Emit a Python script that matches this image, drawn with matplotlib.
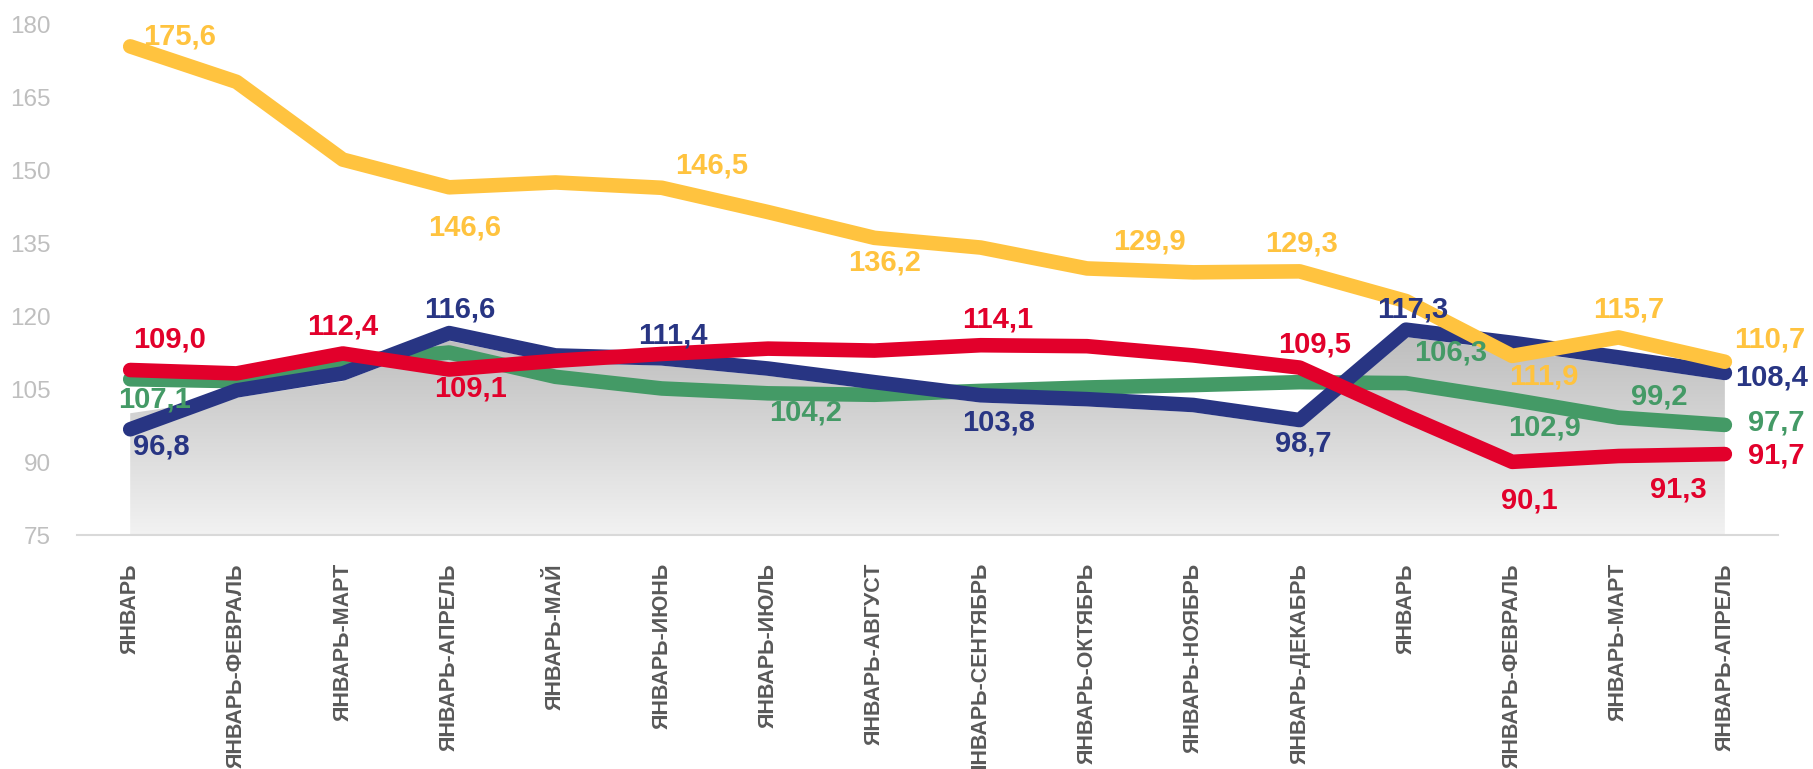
import numpy as np
import matplotlib.pyplot as plt
from matplotlib.colors import LinearSegmentedColormap
from matplotlib.patches import Polygon

# 1) Категории (периоды)
months = ["ЯНВАРЬ", "ЯНВАРЬ-ФЕВРАЛЬ", "ЯНВАРЬ-МАРТ", "ЯНВАРЬ-АПРЕЛЬ", "ЯНВАРЬ-МАЙ",
          "ЯНВАРЬ-ИЮНЬ", "ЯНВАРЬ-ИЮЛЬ", "ЯНВАРЬ-АВГУСТ", "ЯНВАРЬ-СЕНТЯБРЬ",
          "ЯНВАРЬ-ОКТЯБРЬ", "ЯНВАРЬ-НОЯБРЬ", "ЯНВАРЬ-ДЕКАБРЬ", "ЯНВАРЬ",
          "ЯНВАРЬ-ФЕВРАЛЬ", "ЯНВАРЬ-МАРТ", "ЯНВАРЬ-АПРЕЛЬ"]

# 2) Ряды значений
yellow = [175.6, 168.3, 152.3, 146.6, 147.6, 146.5, 141.5, 136.2, 134.2, 129.9, 129.1, 129.3, 123.2, 111.9, 115.7, 110.7]
navy = [96.8, 104.8, 108.3, 116.6, 112.0, 111.4, 109.3, 106.5, 103.8, 103.0, 101.8, 98.7, 117.3, 114.6, 111.6, 108.4]
red = [109.0, 108.3, 112.4, 109.1, 110.9, 112.3, 113.4, 113.0, 114.1, 113.9, 112.0, 109.5, 99.6, 90.1, 91.3, 91.7]
green = [107.1, 106.7, 110.6, 112.6, 107.6, 105.2, 104.2, 103.9, 104.7, 105.4, 105.9, 106.5, 106.3, 102.9, 99.2, 97.7]
gray = [100.1, 103.3, 106.7, 115.0, 110.6, 109.9, 107.8, 105.0, 102.3, 101.5, 100.3, 97.2, 115.8, 113.0, 110.1, 106.9]

# 3) Подписи: индекс точки и сдвиг подписи (dx, dy)
yellow_lbl = [0, 3, 5, 7, 9, 11, 13, 14, 15]
yellow_off = [(0.46, 2.1), (0.15, -8.2), (0.47, 4.5), (0.1, -5.0), (0.59, 5.6),
              (0.02, 5.7), (0.3, -4.3), (0.1, 5.7), (0.42, 4.5)]
navy_lbl = [0, 3, 5, 8, 11, 12, 15]
navy_off = [(0.29, -3.5), (0.1, 4.8), (0.1, 4.8), (0.17, -5.7), (0.03, -4.9),
            (0.06, 4.1), (0.44, -1.0)]
red_lbl = [0, 2, 3, 8, 11, 13, 14, 15]
red_off = [(0.37, 6.2), (0.0, 5.6), (0.2, -3.9), (0.16, 5.2), (0.14, 4.8),
           (0.16, -8.0), (0.56, -6.8), (0.48, -0.3)]
green_lbl = [0, 6, 12, 13, 14, 15]
green_off = [(0.23, -4.2), (0.35, -4.0), (0.42, 6.3), (0.3, -5.8), (0.38, 4.4), (0.48, 0.4)]

c_yellow = "#FFC33F"
c_navy = "#283583"
c_red = "#E2002B"
c_green = "#449A66"

plt.rcParams['font.family'] = ['Liberation Sans', 'DejaVu Sans']

fig = plt.figure(figsize=(18.13, 7.69), dpi=100)
ax = fig.add_axes([0.0425, 0.304, 0.9382, 0.6635])

x = np.arange(len(months))

# 4) Серая область с градиентом
verts = np.vstack([np.column_stack([x, gray]), [[x[-1], 75], [x[0], 75]]])
clip = Polygon(verts, closed=True, transform=ax.transData)
cmap = LinearSegmentedColormap.from_list("g", ["#f2f2f2", "#bebebe"])
grad = np.linspace(0, 1, 256).reshape(-1, 1)
img = ax.imshow(grad, cmap=cmap, origin="lower", aspect="auto",
                extent=[x[0], x[-1], 75, max(gray)], zorder=1)
img.set_clip_path(clip)

# 5) Линии
for vals, col, z in [(green, c_green, 2), (navy, c_navy, 3), (red, c_red, 4), (yellow, c_yellow, 5)]:
    ax.plot(x, vals, color=col, lw=10.5, solid_capstyle="round", solid_joinstyle="round", zorder=z)

# 6) Подписи значений
for vals, idx, offs, col in [(yellow, yellow_lbl, yellow_off, c_yellow),
                             (navy, navy_lbl, navy_off, c_navy),
                             (red, red_lbl, red_off, c_red),
                             (green, green_lbl, green_off, c_green)]:
    for i, (dx, dy) in zip(idx, offs):
        ax.text(i + dx, vals[i] + dy, f"{vals[i]:.1f}".replace(".", ","),
                ha="center", va="center", color=col, fontsize=21,
                fontweight="bold", zorder=6, clip_on=False)

# 7) Оси
ax.set_xlim(-0.5, len(months) - 0.5)
ax.set_ylim(75, 180)
ax.set_yticks(np.arange(75, 181, 15))
ax.set_xticks(x)
ax.set_xticklabels(months, rotation=90, fontsize=15.5, fontweight="bold", color="#595959")
ax.tick_params(axis="x", length=0, pad=20)
ax.tick_params(axis="y", length=0, pad=19, labelsize=17.5, labelcolor="#bfbfbf")
for s in ["top", "right", "left"]:
    ax.spines[s].set_visible(False)
ax.spines["bottom"].set_color("#d9d9d9")
ax.spines["bottom"].set_linewidth(1.5)

fig.savefig("out.png", dpi=100)
